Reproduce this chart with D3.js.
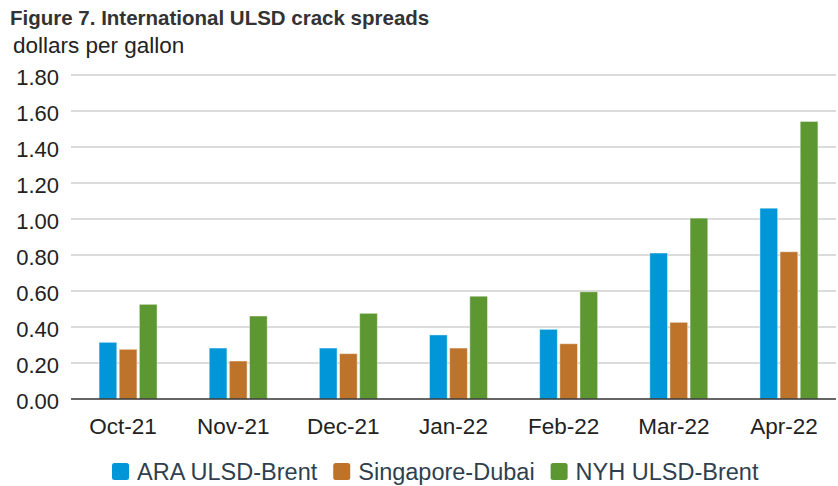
<!DOCTYPE html>
<html><head><meta charset="utf-8">
<script src="https://cdn.jsdelivr.net/npm/d3@7"></script>
<style>body{margin:0;background:#fff}svg{display:block;font-family:"Liberation Sans",Arial,sans-serif}</style>
</head><body><svg id="c" width="838" height="486"></svg>
<script>
const categories = ["Oct-21","Nov-21","Dec-21","Jan-22","Feb-22","Mar-22","Apr-22"];
const seriesNames = ["ARA ULSD-Brent","Singapore-Dubai","NYH ULSD-Brent"];
const araULSDBrent = [0.315,0.283,0.283,0.356,0.387,0.811,1.06];
const singaporeDubai = [0.276,0.211,0.252,0.283,0.307,0.426,0.818];
const nyhULSDBrent = [0.526,0.461,0.476,0.571,0.596,1.005,1.542];
const yTicks = [0,0.2,0.4,0.6,0.8,1.0,1.2,1.4,1.6,1.8];
const colors = ["#0096d7","#bd732a","#5d9732"];

const seriesValues = [araULSDBrent, singaporeDubai, nyhULSDBrent];
const svg = d3.select("#c");
const plotLeft = 71, plotRight = 836, plotTop = 75, plotBottom = 399;

const y = d3.scaleLinear().domain([0,1.8]).range([plotBottom, plotTop]);
const x0 = d3.scaleBand().domain(categories).range([73, 844]).paddingInner(0).paddingOuter(0);
const x1 = d3.scaleBand().domain(seriesNames).range([x0.bandwidth()/2 - 29, x0.bandwidth()/2 + 29]).paddingInner(0.12);

svg.append("text").attr("x",10).attr("y",25).attr("font-size","20.5px").attr("font-weight","bold").attr("fill","#333").text("Figure 7. International ULSD crack spreads");
svg.append("text").attr("x",13).attr("y",53).attr("font-size","22.5px").attr("fill","#222").text("dollars per gallon");

// grid
svg.append("g").selectAll("line").data(yTicks.filter(d=>d>0)).join("line")
  .attr("x1",plotLeft).attr("x2",plotRight).attr("y1",d=>y(d)).attr("y2",d=>y(d))
  .attr("stroke","#cfcfcf").attr("stroke-width",1.5);

// y labels
svg.append("g").selectAll("text").data(yTicks).join("text")
  .attr("x",59).attr("y",d=>y(d)+2.5).attr("dy","0.35em").attr("text-anchor","end")
  .attr("font-size","22px").attr("fill","#222").text(d=>d3.format(".2f")(d));

// bars
const g = svg.append("g").selectAll("g").data(categories).join("g")
  .attr("transform",d=>`translate(${x0(d)},0)`);
g.selectAll("rect").data((d,i)=>seriesNames.map((s,j)=>({s, v:seriesValues[j][i], j}))).join("rect")
  .attr("x",d=>x1(d.s)).attr("width",x1.bandwidth())
  .attr("y",d=>y(d.v)).attr("height",d=>y(0)-y(d.v))
  .attr("fill",d=>colors[d.j]).attr("stroke","rgba(255,255,255,0.45)").attr("stroke-width",1);

// baseline
svg.append("line").attr("x1",plotLeft).attr("x2",plotRight).attr("y1",y(0)).attr("y2",y(0)).attr("stroke","#333").attr("stroke-width",1.5);

// x labels
svg.append("g").selectAll("text").data(categories).join("text")
  .attr("x",d=>x0(d)+x0.bandwidth()/2 - 5).attr("y",434).attr("text-anchor","middle")
  .attr("font-size","22.5px").attr("fill","#222").text(d=>d);

// legend
const legend = svg.append("g");
let lx = 112;
seriesNames.forEach((s,i)=>{
  legend.append("rect").attr("x",lx).attr("y",463).attr("width",17).attr("height",17).attr("rx",2.5).attr("fill",colors[i]);
  const t = legend.append("text").attr("x",lx+25).attr("y",480).attr("font-size","23.5px").attr("fill","#2f3f4f").text(s);
  lx += 25 + t.node().getComputedTextLength() + 16;
});
</script></body></html>
